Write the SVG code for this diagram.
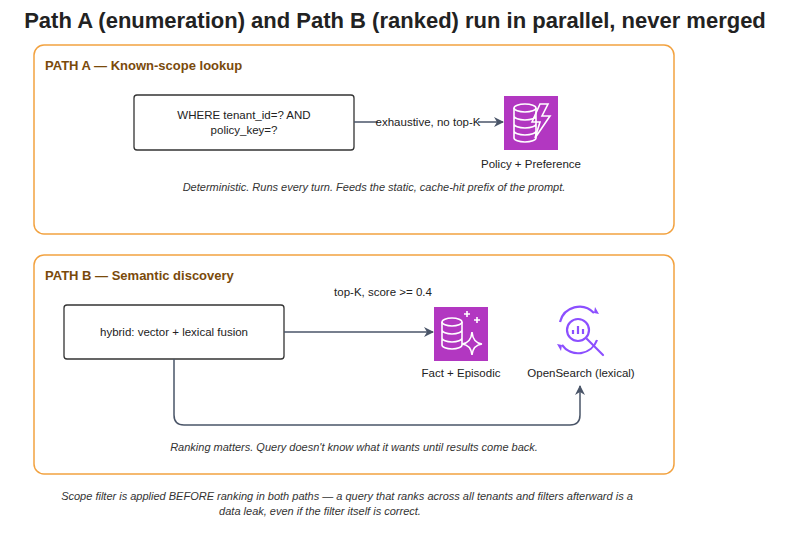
<svg xmlns="http://www.w3.org/2000/svg" width="785" height="538" viewBox="0 0 785 538">
<style>
text{font-family:"Liberation Sans",Arial,sans-serif;fill:#222}
.ct{fill:none;stroke:#F2A240;stroke-width:1.5}
.ctt{font-size:13px;font-weight:bold;fill:#7A4A0B}
.box{fill:#fff;stroke:#333;stroke-width:1.3}
.t{font-size:11.5px;text-anchor:middle}
.cap{font-size:11px;font-style:italic;text-anchor:middle;fill:#333}
.edge{fill:none;stroke:#4A5568;stroke-width:1.5}
.w{fill:none;stroke:#fff;stroke-width:1.6}
.os{fill:none;stroke:#8C4FFF;stroke-width:2.2}
</style>
<defs>
<marker id="ar" markerWidth="10" markerHeight="10" refX="9" refY="5" orient="auto" markerUnits="userSpaceOnUse">
<path d="M0,0 L10,5 L0,10 L3,5 Z" fill="#4A5568"/>
</marker>
</defs>
<text x="395" y="28" font-size="22" font-weight="bold" text-anchor="middle">Path A (enumeration) and Path B (ranked) run in parallel, never merged</text>

<g id="pathA">
<rect class="ct" x="34" y="45" width="640" height="189" rx="10"/>
<text class="ctt" x="45" y="70">PATH A — Known-scope lookup</text>
<text class="cap" x="374" y="191">Deterministic. Runs every turn. Feeds the static, cache-hit prefix of the prompt.</text>
</g>
<g id="whereBox">
<rect class="box" x="134" y="95" width="220" height="55" rx="3"/>
<text class="t" x="244" y="119">WHERE tenant_id=? AND</text>
<text class="t" x="244" y="134">policy_key=?</text>
</g>
<g id="policy">
<rect x="504" y="96" width="54" height="54" fill="#B237C1"/>
<ellipse class="w" cx="525" cy="108" rx="11" ry="4"/>
<path class="w" d="M514,108 V138 A11,4 0 0 0 536,138 V108 M514,116 A11,4 0 0 0 536,116 M514,124 A11,4 0 0 0 536,124 M514,131 A11,4 0 0 0 536,131"/>
<path class="w" d="M540,104 L532,122 L540,122 L535,138 L550,116 L542,116 L548,104 Z" fill="#B237C1"/>
<text class="t" x="531" y="168">Policy + Preference</text>
</g>

<g id="pathB">
<rect class="ct" x="34" y="255" width="640" height="219" rx="10"/>
<text class="ctt" x="45" y="280">PATH B — Semantic discovery</text>
<text class="cap" x="354" y="451">Ranking matters. Query doesn't know what it wants until results come back.</text>
</g>
<g id="hybridBox">
<rect class="box" x="64" y="305" width="220" height="54" rx="3"/>
<text class="t" x="174" y="336">hybrid: vector + lexical fusion</text>
</g>
<g id="fact">
<rect x="434" y="307" width="54" height="54" fill="#B237C1"/>
<ellipse class="w" cx="452" cy="322" rx="10" ry="4"/>
<path class="w" d="M442,322 V345 A10,4 0 0 0 462,345 V322 M442,330 A10,4 0 0 0 462,330 M442,338 A10,4 0 0 0 462,338"/>
<path class="w" d="M472,332 Q473,343 482,344 Q473,345 472,355 Q471,345 462,344 Q471,343 472,332 Z" fill="#B237C1"/>
<path class="w" d="M467,311 v6 M464,314 h6 M477,317 v6 M474,320 h6" stroke-width="1.2"/>
<text class="t" x="461" y="377">Fact + Episodic</text>
</g>
<g id="opensearch">
<circle class="os" cx="578" cy="330" r="11"/>
<path class="os" d="M587,339 L603,355" stroke-width="4" stroke-linecap="round"/>
<path class="os" d="M573,334 v-4 M578,334 v-8 M583,334 v-5" stroke-width="2"/>
<path class="os" d="M560,322 A20,20 0 0 1 594,313 M597,340 A20,20 0 0 1 562,345"/>
<path d="M594,313 l1,-6 l4,7 z M562,345 l-1,6 l-4,-7 z" fill="#8C4FFF"/>
<text class="t" x="581" y="377">OpenSearch (lexical)</text>
</g>

<g id="connectors">
<path class="edge" d="M354,122 L503,122" marker-end="url(#ar)"/>
<rect x="378" y="115" width="100" height="14" fill="#fff"/>
<text class="t" x="428" y="126" font-size="10.5">exhaustive, no top-K</text>
<path class="edge" d="M284,332 L433,332" marker-end="url(#ar)"/>
<text class="t" x="383" y="296" font-size="10.5">top-K, score &gt;= 0.4</text>
<path class="edge" d="M174,359 V415 Q174,425 184,425 H570 Q580,425 580,415 V386" marker-end="url(#ar)"/>
</g>

<g id="footnote">
<text class="cap" x="347" y="500" font-size="13.3">Scope filter is applied BEFORE ranking in both paths — a query that ranks across all tenants and filters afterward is a</text>
<text class="cap" x="320" y="515" font-size="13.3">data leak, even if the filter itself is correct.</text>
</g>
</svg>
